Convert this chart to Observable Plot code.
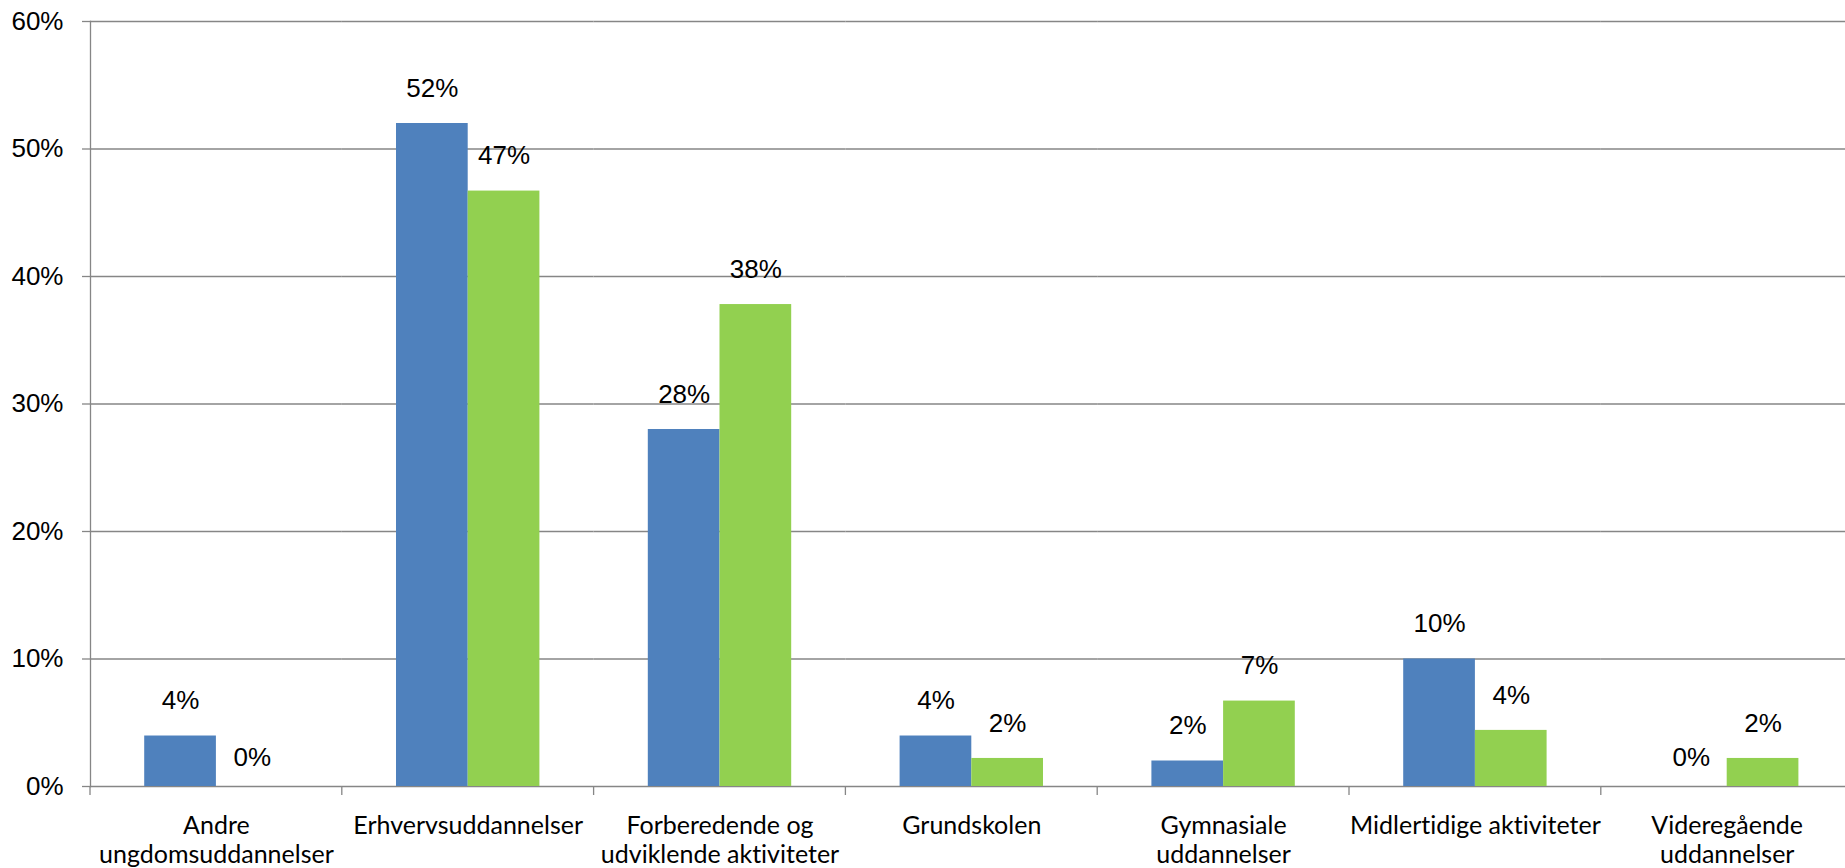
<!DOCTYPE html>
<html><head><meta charset="utf-8">
<script src="https://cdn.jsdelivr.net/npm/d3@7"></script>
<script src="https://cdn.jsdelivr.net/npm/@observablehq/plot@0.6"></script>
<style>
html,body{margin:0;padding:0;background:#fff;overflow:hidden;}
svg text{font-variant-ligatures:none;}
</style></head><body><div id="chart"></div>
<script>
const categories = ["Andre ungdomsuddannelser", "Erhvervsuddannelser", "Forberedende og udviklende aktiviteter", "Grundskolen", "Gymnasiale uddannelser", "Midlertidige aktiviteter", "Videregående uddannelser"];
const categoryLabels = ["Andre\nungdomsuddannelser", "Erhvervsuddannelser", "Forberedende og\nudviklende aktiviteter", "Grundskolen", "Gymnasiale\nuddannelser", "Midlertidige aktiviteter", "Videregående\nuddannelser"];
const seriesNames = ["Serie 1", "Serie 2"];
const series1 = [3.96, 52.0, 28.0, 3.96, 2.0, 10.0, 0];
const series2 = [0, 46.7, 37.8, 2.2, 6.7, 4.4, 2.2];
const valueLabels1 = ["4%", "52%", "28%", "4%", "2%", "10%", "0%"];
const valueLabels2 = ["0%", "47%", "38%", "2%", "7%", "4%", "2%"];
const yTicks = [0, 10, 20, 30, 40, 50, 60];
const colors = ["#4F81BD", "#92D050"];

const rows = categories.flatMap((c, i) => [
  {cat: c, series: seriesNames[0], value: series1[i], label: valueLabels1[i]},
  {cat: c, series: seriesNames[1], value: series2[i], label: valueLabels2[i]}
]);

const gray = "#868686";
const plot = Plot.plot({
  width: 1845, height: 868,
  marginLeft: 90, marginRight: -7.6, marginTop: 21, marginBottom: 82,
  style: {background: "#fff", fontFamily: "'Liberation Sans', Arial, sans-serif", fontSize: "26px", color: "#000", overflow: "visible"},
  fx: {domain: categories, padding: 0, round: false, axis: null},
  x: {domain: seriesNames, paddingInner: 0, paddingOuter: 0.756, round: false, axis: null},
  y: {domain: [0, 60], axis: null},
  color: {domain: seriesNames, range: colors},
  marks: [
    Plot.ruleY(yTicks, {stroke: gray, strokeWidth: 1.3}),
    Plot.axisY({ticks: yTicks, tickFormat: d => d + "%", label: null, tickSize: 8, tickPadding: 19, stroke: gray, strokeWidth: 1.3, fill: "#000", fontSize: 26}),
    Plot.barY(rows, {fx: "cat", x: "series", y: "value", fill: "series"}),
    Plot.text(rows.filter(d => d.value > 0), {fx: "cat", x: "series", y: "value", text: "label", dy: -35, fontSize: 26, fill: "#000"}),
    Plot.text(rows.filter(d => d.value === 0), {fx: "cat", x: "series", y: "value", text: "label", dy: -29, fontSize: 26, fill: "#000"}),
    Plot.text(categories, {fx: d => d, text: (d, i) => categoryLabels[i], frameAnchor: "bottom", lineAnchor: "top", dy: 26.5, fontFamily: "Lato", fontSize: 25, lineHeight: 1.16, fill: "#000"}),
    Plot.frame({anchor: "left", facet: "super", stroke: gray, strokeWidth: 1.3})
  ]
});

// category boundary ticks on the x axis, placed with the fx and y scales
const fx = plot.scale("fx");
const ys = plot.scale("y");
const y0 = ys.apply(0);
const g = d3.select(plot).append("g").attr("stroke", gray).attr("stroke-width", 1.3);
categories.forEach(c => {
  const x0 = fx.apply(c);
  g.append("line").attr("x1", x0).attr("x2", x0).attr("y1", y0).attr("y2", y0 + 9);
});
document.getElementById("chart").appendChild(plot);
</script>
</body></html>
